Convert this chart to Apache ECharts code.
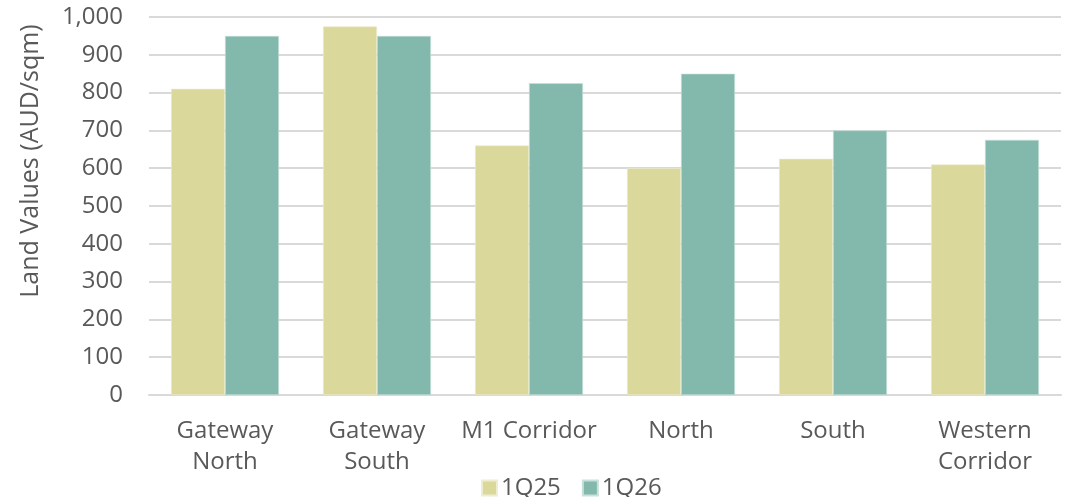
<!DOCTYPE html>
<html>
<head>
<meta charset="utf-8">
<script src="https://cdn.jsdelivr.net/npm/echarts@6/dist/echarts.min.js"></script>
<style>
  html, body { margin: 0; padding: 0; background: #fff; }
  #chart { width: 1071px; height: 497px; }
</style>
</head>
<body>
<div id="chart"></div>
<script>
// Industrial land values by precinct (AUD per square metre)
const categories = ['Gateway\nNorth', 'Gateway\nSouth', 'M1 Corridor', 'North', 'South', 'Western\nCorridor'];
const values1Q25 = [810, 975, 660, 600, 625, 610];
const values1Q26 = [950, 950, 825, 850, 700, 675];
const seriesNames = ['1Q25', '1Q26'];
const yTicks = { min: 0, max: 1000, interval: 100 };

const textColor = '#595959';
const fontFamily = '"Open Sans", "Noto Sans", sans-serif';
const fontSize = 24;

const chart = echarts.init(document.getElementById('chart'));
chart.setOption({
  animation: false,
  textStyle: { fontFamily: fontFamily },
  grid: { left: 149, right: 10, top: 17, bottom: 102 },
  legend: {
    data: seriesNames,
    left: 476,
    top: 471,
    itemWidth: 15,
    itemHeight: 15,
    itemGap: 21,
    icon: 'rect',
    textStyle: { color: textColor, fontSize: fontSize, fontFamily: fontFamily, padding: [0, 0, 0, -1] }
  },
  xAxis: {
    type: 'category',
    data: categories,
    axisTick: { show: false },
    axisLine: { lineStyle: { color: '#D9D9D9', width: 2 } },
    axisLabel: {
      color: textColor,
      fontSize: fontSize,
      lineHeight: 31,
      margin: 21,
      interval: 0,
      fontFamily: fontFamily
    }
  },
  yAxis: {
    type: 'value',
    min: yTicks.min,
    max: yTicks.max,
    interval: yTicks.interval,
    name: 'Land Values (AUD/sqm)',
    nameLocation: 'middle',
    nameRotate: 90,
    nameGap: 106,
    nameTextStyle: {
      color: textColor,
      fontSize: 25,
      fontFamily: fontFamily,
      // the title sits above the vertical centre of the plot
      padding: [0, 0, 0, 90]
    },
    axisLine: { show: false },
    axisTick: { show: false },
    splitLine: { lineStyle: { color: '#D9D9D9', width: 2 } },
    axisLabel: {
      color: textColor,
      fontSize: fontSize,
      margin: 26,
      fontFamily: fontFamily,
      formatter: v => v.toLocaleString('en-US')
    }
  },
  series: [
    {
      name: seriesNames[0],
      type: 'bar',
      data: values1Q25,
      barGap: '0%',
      barCategoryGap: '29%',
      itemStyle: { color: '#DAD89A', borderColor: '#EEEDD0', borderWidth: 0.6 }
    },
    {
      name: seriesNames[1],
      type: 'bar',
      data: values1Q26,
      itemStyle: { color: '#82B9AC', borderColor: '#C9E1DA', borderWidth: 0.6 }
    }
  ]
});
</script>
</body>
</html>
